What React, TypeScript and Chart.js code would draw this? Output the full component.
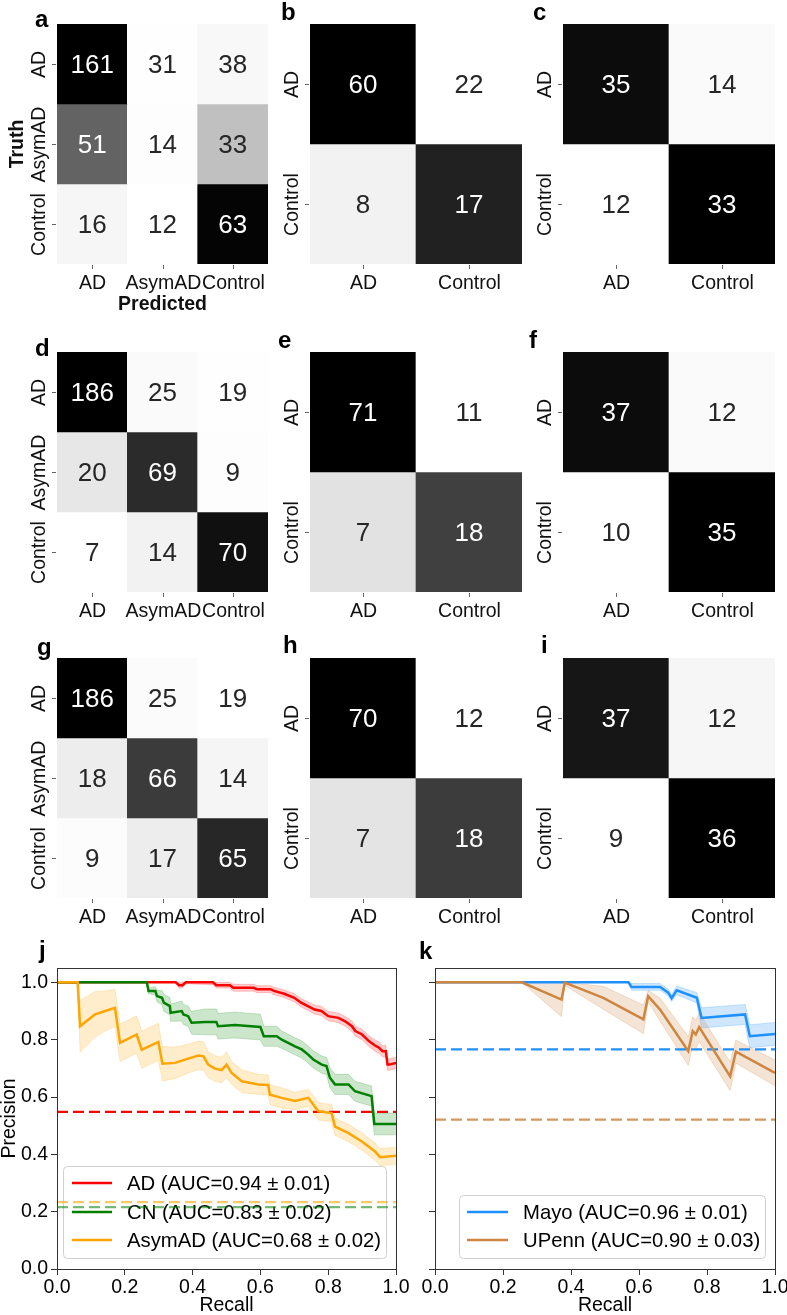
import React, { useEffect, useRef } from 'react';
import { Chart, registerables } from 'chart.js';

Chart.register(...registerables);

const FONT = '"Liberation Sans", Arial, Helvetica, sans-serif';
Chart.defaults.font.family = FONT;

// ---------- confusion matrices ----------
const threeClassLabels = ['AD', 'AsymAD', 'Control'];
const twoClassLabels = ['AD', 'Control'];
const matrixA = [[161, 31, 38], [51, 14, 33], [16, 12, 63]];
const matrixB = [[60, 22], [8, 17]];
const matrixC = [[35, 14], [12, 33]];
const matrixD = [[186, 25, 19], [20, 69, 9], [7, 14, 70]];
const matrixE = [[71, 11], [7, 18]];
const matrixF = [[37, 12], [10, 35]];
const matrixG = [[186, 25, 19], [18, 66, 14], [9, 17, 65]];
const matrixH = [[70, 12], [7, 18]];
const matrixI = [[37, 12], [9, 36]];

// ---------- precision-recall curves (panel j) ----------
const adRecall = [0, 0.35, 0.36, 0.37, 0.38, 0.46, 0.47, 0.51, 0.52, 0.58, 0.59, 0.63, 0.64, 0.67, 0.70, 0.72, 0.74, 0.76, 0.78, 0.80, 0.83, 0.85, 0.87, 0.88, 0.90, 0.92, 0.94, 0.95, 0.96, 0.97, 0.975, 0.98, 1.0];
const adPrecision = [1, 1, 0.99, 0.99, 1, 1, 0.99, 0.99, 0.981, 0.981, 0.976, 0.976, 0.97, 0.96, 0.946, 0.929, 0.917, 0.905, 0.9, 0.882, 0.876, 0.864, 0.847, 0.83, 0.818, 0.795, 0.778, 0.772, 0.76, 0.76, 0.713, 0.713, 0.719];
const adStd = [0, 0, 0.01, 0.01, 0.005, 0.008, 0.01, 0.01, 0.012, 0.012, 0.012, 0.012, 0.013, 0.013, 0.014, 0.015, 0.015, 0.016, 0.016, 0.016, 0.017, 0.017, 0.018, 0.018, 0.018, 0.019, 0.02, 0.02, 0.02, 0.02, 0.02, 0.02, 0.02];

const cnRecall = [0, 0.265, 0.27, 0.29, 0.295, 0.31, 0.315, 0.333, 0.335, 0.368, 0.373, 0.387, 0.397, 0.437, 0.47, 0.475, 0.525, 0.6, 0.61, 0.648, 0.663, 0.682, 0.702, 0.722, 0.741, 0.756, 0.781, 0.795, 0.805, 0.82, 0.86, 0.879, 0.928, 0.936, 1.0];
const cnPrecision = [1, 1, 0.97, 0.97, 0.952, 0.946, 0.929, 0.917, 0.894, 0.9, 0.888, 0.882, 0.859, 0.862, 0.862, 0.847, 0.851, 0.844, 0.812, 0.812, 0.8, 0.789, 0.777, 0.766, 0.748, 0.731, 0.713, 0.708, 0.667, 0.644, 0.644, 0.62, 0.603, 0.506, 0.506];
const cnStd = [0, 0, 0.01, 0.015, 0.02, 0.025, 0.03, 0.03, 0.03, 0.035, 0.035, 0.035, 0.04, 0.045, 0.045, 0.045, 0.045, 0.045, 0.035, 0.035, 0.03, 0.03, 0.03, 0.03, 0.03, 0.03, 0.03, 0.03, 0.035, 0.035, 0.035, 0.035, 0.035, 0.038, 0.038];

const asymRecall = [0, 0.061, 0.068, 0.112, 0.142, 0.171, 0.186, 0.235, 0.25, 0.299, 0.311, 0.348, 0.387, 0.417, 0.432, 0.446, 0.466, 0.486, 0.5, 0.515, 0.545, 0.594, 0.623, 0.628, 0.663, 0.702, 0.741, 0.756, 0.771, 0.81, 0.82, 0.86, 0.899, 0.918, 0.938, 0.953, 1.0];
const asymPrecision = [1, 1, 0.847, 0.888, 0.9, 0.911, 0.789, 0.818, 0.765, 0.792, 0.716, 0.719, 0.734, 0.745, 0.742, 0.713, 0.699, 0.694, 0.713, 0.684, 0.655, 0.644, 0.642, 0.608, 0.597, 0.586, 0.597, 0.574, 0.55, 0.544, 0.497, 0.474, 0.445, 0.428, 0.41, 0.39, 0.395];
const asymStd = [0, 0, 0.09, 0.08, 0.07, 0.065, 0.065, 0.065, 0.065, 0.065, 0.06, 0.055, 0.05, 0.05, 0.05, 0.045, 0.045, 0.045, 0.045, 0.04, 0.04, 0.035, 0.035, 0.035, 0.035, 0.03, 0.03, 0.03, 0.03, 0.03, 0.03, 0.03, 0.03, 0.03, 0.03, 0.03, 0.03];

const jBaselines = [0.548, 0.216, 0.233]; // AD, CN, AsymAD
const jLegend = ['AD (AUC=0.94 ± 0.01)', 'CN (AUC=0.83 ± 0.02)', 'AsymAD (AUC=0.68 ± 0.02)'];

// ---------- precision-recall curves (panel k) ----------
const mayoRecall = [0, 0.569, 0.578, 0.662, 0.686, 0.696, 0.711, 0.77, 0.784, 0.912, 0.926, 1.0];
const mayoPrecision = [1, 1, 0.984, 0.984, 0.964, 0.945, 0.972, 0.946, 0.876, 0.888, 0.812, 0.82];
const mayoStd = [0, 0, 0.012, 0.012, 0.012, 0.012, 0.015, 0.018, 0.035, 0.035, 0.04, 0.04];

const upennRecall = [0, 0.255, 0.372, 0.382, 0.495, 0.613, 0.627, 0.662, 0.745, 0.758, 0.767, 0.777, 0.868, 0.885, 1.0];
const upennPrecision = [1, 1, 0.94, 0.999, 0.946, 0.871, 0.952, 0.905, 0.76, 0.83, 0.818, 0.844, 0.672, 0.758, 0.684];
const upennStd = [0, 0, 0.06, 0.01, 0.04, 0.05, 0.02, 0.04, 0.05, 0.05, 0.05, 0.05, 0.05, 0.04, 0.045];

const kBaselines = [0.766, 0.521]; // Mayo, UPenn
const kLegend = ['Mayo (AUC=0.96 ± 0.01)', 'UPenn (AUC=0.90 ± 0.03)'];

const recallTicks = [0, 0.2, 0.4, 0.6, 0.8, 1.0];
const precisionTicks = [0, 0.2, 0.4, 0.6, 0.8, 1.0];

// ---------- helpers ----------
const GREYS = [255, 240, 217, 189, 150, 115, 82, 37, 0];
function greyLevel(t: number) {
  const tt = Math.max(0, Math.min(1, t));
  const p = tt * 8;
  const i = Math.min(7, Math.floor(p));
  const f = p - i;
  return Math.round(GREYS[i] + (GREYS[i + 1] - GREYS[i]) * f);
}
function shadeMatrix(values: number[][]) {
  const norm = values.map((row) => {
    const s = row.reduce((a, b) => a + b, 0);
    return row.map((v) => v / s);
  });
  const flat = norm.flat();
  const mn = Math.min(...flat);
  const mx = Math.max(...flat);
  return norm.map((row) => row.map((v) => (v - mn) / (mx - mn)));
}
function textColorFor(level: number) {
  const c = level / 255;
  const lin = c <= 0.03928 ? c / 12.92 : Math.pow((c + 0.055) / 1.055, 2.4);
  return lin > 0.408 ? '#262626' : '#ffffff';
}

const colLeft = [57, 310, 563];
const colWidth = [211, 212, 212];
const rowTop = [24, 352, 658];
const CELL_H = 240;

const matrixPanels = [
  { letter: 'a', values: matrixA, labels: threeClassLabels, col: 0, row: 0, titles: true, ldx: -22, ldy: 3 },
  { letter: 'b', values: matrixB, labels: twoClassLabels, col: 1, row: 0, titles: false, ldx: -29, ldy: -4 },
  { letter: 'c', values: matrixC, labels: twoClassLabels, col: 2, row: 0, titles: false, ldx: -30, ldy: -4 },
  { letter: 'd', values: matrixD, labels: threeClassLabels, col: 0, row: 1, titles: false, ldx: -22, ldy: 4 },
  { letter: 'e', values: matrixE, labels: twoClassLabels, col: 1, row: 1, titles: false, ldx: -32, ldy: -4 },
  { letter: 'f', values: matrixF, labels: twoClassLabels, col: 2, row: 1, titles: false, ldx: -34, ldy: -4 },
  { letter: 'g', values: matrixG, labels: threeClassLabels, col: 0, row: 2, titles: false, ldx: -20, ldy: -3 },
  { letter: 'h', values: matrixH, labels: twoClassLabels, col: 1, row: 2, titles: false, ldx: -27, ldy: -5 },
  { letter: 'i', values: matrixI, labels: twoClassLabels, col: 2, row: 2, titles: false, ldx: -22, ldy: -5 },
];

const TICK_FONT = 19.5;
const LEGEND_FONT = 20.3;
const CAP = 0.358; // half cap-height ratio

function MatrixPanel({ cfg }: { cfg: any }) {
  const ref = useRef<HTMLCanvasElement | null>(null);
  const mx = colLeft[cfg.col];
  const my = rowTop[cfg.row];
  const mw = colWidth[cfg.col];
  const padL = 57;
  const padT = 40;
  const W = padL + mw + 8;
  const H = padT + CELL_H + 60;

  useEffect(() => {
    const values: number[][] = cfg.values;
    const labels: string[] = cfg.labels;
    const n = values.length;
    const shades = shadeMatrix(values);
    const levels = shades.map((row) => row.map((t) => greyLevel(t)));

    const plugin = {
      id: 'cmText' + cfg.letter,
      afterDatasetsDraw(chart: any) {
        const { ctx, chartArea: a, scales } = chart;
        ctx.save();
        ctx.textAlign = 'center';
        ctx.textBaseline = 'alphabetic';
        ctx.font = `26px ${FONT}`;
        values.forEach((row, r) => {
          const meta = chart.getDatasetMeta(r);
          row.forEach((v, c) => {
            const el = meta.data[c];
            const cy = (el.y + el.base) / 2;
            ctx.fillStyle = textColorFor(levels[r][c]);
            ctx.fillText(String(v), el.x, cy + 26 * CAP);
          });
        });
        ctx.strokeStyle = '#666';
        ctx.lineWidth = 1;
        ctx.fillStyle = '#111';
        ctx.font = `${TICK_FONT}px ${FONT}`;
        labels.forEach((lab, i) => {
          const px = Math.round(scales.x.getPixelForValue(i)) + 0.5;
          ctx.beginPath();
          ctx.moveTo(px, a.bottom + 1);
          ctx.lineTo(px, a.bottom + 5);
          ctx.stroke();
          ctx.fillText(lab, px, a.bottom + 18.5 + TICK_FONT * CAP);
        });
        labels.forEach((lab, r) => {
          const py = Math.round(scales.y.getPixelForValue(r + 0.5)) + 0.5;
          ctx.beginPath();
          ctx.moveTo(a.left - 5, py);
          ctx.lineTo(a.left - 1, py);
          ctx.stroke();
          ctx.save();
          ctx.translate(a.left - 19 + TICK_FONT * CAP, py);
          ctx.rotate(-Math.PI / 2);
          ctx.fillText(lab, 0, 0);
          ctx.restore();
        });
        if (cfg.titles) {
          ctx.font = `bold ${TICK_FONT}px ${FONT}`;
          ctx.fillText('Predicted', (a.left + a.right) / 2, a.bottom + 39.5 + TICK_FONT * CAP);
          ctx.save();
          ctx.translate(a.left - 41 + TICK_FONT * CAP, (a.top + a.bottom) / 2);
          ctx.rotate(-Math.PI / 2);
          ctx.fillText('Truth', 0, 0);
          ctx.restore();
        }
        ctx.font = `bold 24px ${FONT}`;
        ctx.textAlign = 'left';
        ctx.fillStyle = '#000';
        ctx.fillText(cfg.letter, a.left + cfg.ldx, a.top + cfg.ldy);
        ctx.restore();
      },
    };

    const chart = new Chart(ref.current as HTMLCanvasElement, {
      type: 'bar',
      data: {
        labels,
        datasets: values.map((row, r) => ({
          data: row.map(() => [r, r + 1]),
          backgroundColor: row.map((_, c) => `rgb(${levels[r][c]},${levels[r][c]},${levels[r][c]})`),
          borderWidth: 0,
          barPercentage: 1,
          categoryPercentage: 1,
          grouped: false,
        })),
      } as any,
      options: {
        responsive: false,
        animation: false,
        devicePixelRatio: 1,
        events: [],
        layout: { padding: { left: padL, top: padT, right: W - padL - mw, bottom: H - padT - CELL_H } },
        scales: {
          x: { type: 'category', display: false },
          y: { type: 'linear', display: false, min: 0, max: n, reverse: true },
        },
        plugins: { legend: { display: false }, tooltip: { enabled: false } },
      } as any,
      plugins: [plugin],
    });
    return () => chart.destroy();
  }, []);

  return (
    <canvas
      ref={ref}
      width={W}
      height={H}
      style={{ position: 'absolute', left: mx - padL, top: my - padT, width: W, height: H }}
    />
  );
}

// ---------- PR panels ----------
function curveSets(recall: number[], precision: number[], std: number[], color: string, band: string, order: number) {
  return [
    {
      data: recall.map((x, i) => ({ x, y: precision[i] })),
      borderColor: color,
      borderWidth: 2.5,
      pointRadius: 0,
      fill: false,
      tension: 0,
      order,
    },
    {
      data: recall.map((x, i) => ({ x, y: Math.min(1, precision[i] + std[i]) })),
      borderColor: band,
      backgroundColor: band,
      borderWidth: 1,
      pointRadius: 0,
      fill: '+1',
      tension: 0,
      order: order + 10,
    },
    {
      data: recall.map((x, i) => ({ x, y: precision[i] - std[i] })),
      borderColor: band,
      backgroundColor: band,
      borderWidth: 1,
      pointRadius: 0,
      fill: false,
      tension: 0,
      order: order + 10,
    },
  ];
}
function baselineSet(y: number, color: string, order: number) {
  return {
    data: [{ x: 0, y }, { x: 1, y }],
    borderColor: color,
    borderWidth: 2.2,
    borderDash: [11, 5],
    pointRadius: 0,
    fill: false,
    order,
  };
}

function PRPanel({ cfg }: { cfg: any }) {
  const ref = useRef<HTMLCanvasElement | null>(null);
  useEffect(() => {
    const plugin = {
      id: 'prDecor' + cfg.letter,
      beforeDatasetsDraw(chart: any) {
        const { ctx } = chart;
        const b = cfg.legendBox;
        ctx.save();
        ctx.beginPath();
        const r = 4;
        ctx.moveTo(b.x + r, b.y);
        ctx.lineTo(b.x + b.w - r, b.y);
        ctx.arcTo(b.x + b.w, b.y, b.x + b.w, b.y + r, r);
        ctx.lineTo(b.x + b.w, b.y + b.h - r);
        ctx.arcTo(b.x + b.w, b.y + b.h, b.x + b.w - r, b.y + b.h, r);
        ctx.lineTo(b.x + r, b.y + b.h);
        ctx.arcTo(b.x, b.y + b.h, b.x, b.y + b.h - r, r);
        ctx.lineTo(b.x, b.y + r);
        ctx.arcTo(b.x, b.y, b.x + r, b.y, r);
        ctx.closePath();
        ctx.fillStyle = 'rgba(255,255,255,0.8)';
        ctx.fill();
        ctx.strokeStyle = '#d0d0d0';
        ctx.lineWidth = 1;
        ctx.stroke();
        ctx.font = `${LEGEND_FONT}px ${FONT}`;
        ctx.textAlign = 'left';
        ctx.textBaseline = 'alphabetic';
        cfg.legendItems.forEach((it: any, i: number) => {
          const y = b.rows[i];
          ctx.strokeStyle = it.color;
          ctx.lineWidth = 2.5;
          ctx.beginPath();
          ctx.moveTo(b.lx0, y);
          ctx.lineTo(b.lx1, y);
          ctx.stroke();
          ctx.fillStyle = '#000';
          ctx.fillText(it.text, b.tx, y + LEGEND_FONT * CAP);
        });
        ctx.restore();
      },
      afterDatasetsDraw(chart: any) {
        const { ctx, chartArea: a } = chart;
        ctx.save();
        ctx.strokeStyle = '#333';
        ctx.lineWidth = 1;
        ctx.strokeRect(Math.round(a.left) + 0.5, Math.round(a.top) + 0.5, Math.round(a.right - a.left), Math.round(a.bottom - a.top));
        ctx.restore();
      },
      afterDraw(chart: any) {
        const { ctx, chartArea: a } = chart;
        ctx.save();
        ctx.font = `bold 24px ${FONT}`;
        ctx.fillStyle = '#000';
        ctx.textAlign = 'left';
        ctx.fillText(cfg.letter, a.left + cfg.ldx, a.top + cfg.ldy);
        ctx.restore();
      },
    };

    const chart = new Chart(ref.current as HTMLCanvasElement, {
      type: 'line',
      data: { datasets: cfg.datasets } as any,
      options: {
        responsive: false,
        animation: false,
        devicePixelRatio: 1,
        events: [],
        layout: { padding: { left: 0, top: cfg.padTop, right: cfg.padRight, bottom: 0 } },
        scales: {
          x: {
            type: 'linear',
            min: 0,
            max: 1,
            afterBuildTicks: (s: any) => {
              s.ticks = recallTicks.map((v) => ({ value: v }));
            },
            afterFit: (s: any) => {
              s.height = cfg.xAxisH;
              s.paddingLeft = 0;
              s.paddingRight = 0;
            },
            ticks: {
              color: '#000',
              font: { size: TICK_FONT, family: FONT },
              padding: 1,
              maxRotation: 0,
              callback: (v: any) => Number(v).toFixed(1),
            },
            grid: { drawOnChartArea: false, drawTicks: true, tickLength: 6, color: '#333' },
            border: { display: false },
            title: {
              display: true,
              text: 'Recall',
              color: '#000',
              font: { size: TICK_FONT, family: FONT, lineHeight: 1 },
              padding: 0,
            },
          },
          y: {
            type: 'linear',
            min: 0,
            max: 1.05,
            afterBuildTicks: (s: any) => {
              s.ticks = precisionTicks.map((v) => ({ value: v }));
            },
            afterFit: (s: any) => {
              s.width = cfg.yAxisW;
              s.paddingTop = 0;
              s.paddingBottom = 0;
            },
            ticks: {
              display: cfg.showYLabels,
              color: '#000',
              font: { size: TICK_FONT, family: FONT },
              padding: 3,
              callback: (v: any) => Number(v).toFixed(1),
            },
            grid: { drawOnChartArea: false, drawTicks: true, tickLength: 6, color: '#333' },
            border: { display: false },
            title: {
              display: cfg.showYLabels,
              text: 'Precision',
              color: '#000',
              font: { size: TICK_FONT, family: FONT, lineHeight: 1 },
              padding: 0,
            },
          },
        },
        plugins: { legend: { display: false }, tooltip: { enabled: false } },
      } as any,
      plugins: [plugin],
    });
    return () => chart.destroy();
  }, []);

  return (
    <canvas
      ref={ref}
      width={cfg.width}
      height={cfg.height}
      style={{ position: 'absolute', left: cfg.left, top: cfg.top, width: cfg.width, height: cfg.height }}
    />
  );
}

const RED = '#ff0000';
const GREEN = '#008000';
const ORANGE = '#ffa500';
const BLUE = '#1e90ff';
const BROWN = '#cd853f';

const jConfig = {
  letter: 'j',
  left: 0,
  top: 930,
  width: 420,
  height: 385,
  padTop: 38,
  padRight: 24,
  yAxisW: 57,
  xAxisH: 46,
  showYLabels: true,
  ldx: -18,
  ldy: -10,
  datasets: [
    ...curveSets(asymRecall, asymPrecision, asymStd, ORANGE, 'rgba(255,165,0,0.2)', 1),
    ...curveSets(cnRecall, cnPrecision, cnStd, GREEN, 'rgba(0,128,0,0.2)', 2),
    ...curveSets(adRecall, adPrecision, adStd, RED, 'rgba(255,0,0,0.2)', 3),
    baselineSet(jBaselines[0], RED, 4),
    baselineSet(jBaselines[1], 'rgba(0,128,0,0.55)', 4),
    baselineSet(jBaselines[2], 'rgba(255,165,0,0.6)', 4),
  ],
  legendItems: [
    { color: RED, text: jLegend[0] },
    { color: GREEN, text: jLegend[1] },
    { color: ORANGE, text: jLegend[2] },
  ],
  legendBox: { x: 63.5, y: 236.5, w: 323, h: 92, rows: [253, 282, 310], lx0: 72, lx1: 112, tx: 127 },
};

const kConfig = {
  letter: 'k',
  left: 400,
  top: 930,
  width: 387,
  height: 385,
  padTop: 38,
  padRight: 12,
  yAxisW: 35,
  xAxisH: 46,
  showYLabels: false,
  ldx: -16,
  ldy: -9,
  datasets: [
    ...curveSets(upennRecall, upennPrecision, upennStd, BROWN, 'rgba(205,133,63,0.22)', 1),
    ...curveSets(mayoRecall, mayoPrecision, mayoStd, BLUE, 'rgba(30,144,255,0.22)', 2),
    baselineSet(kBaselines[0], BLUE, 4),
    baselineSet(kBaselines[1], 'rgba(205,133,63,0.85)', 4),
  ],
  legendItems: [
    { color: BLUE, text: kLegend[0] },
    { color: BROWN, text: kLegend[1] },
  ],
  legendBox: { x: 59.5, y: 265.5, w: 306, h: 63, rows: [282, 310], lx0: 67, lx1: 108, tx: 123 },
};

export default function App() {
  return (
    <div style={{ position: 'absolute', left: 0, top: 0, width: 787, height: 1315, background: '#ffffff', overflow: 'hidden' }}>
      {matrixPanels.map((p) => (
        <MatrixPanel key={p.letter} cfg={p} />
      ))}
      <PRPanel cfg={jConfig} />
      <PRPanel cfg={kConfig} />
    </div>
  );
}
